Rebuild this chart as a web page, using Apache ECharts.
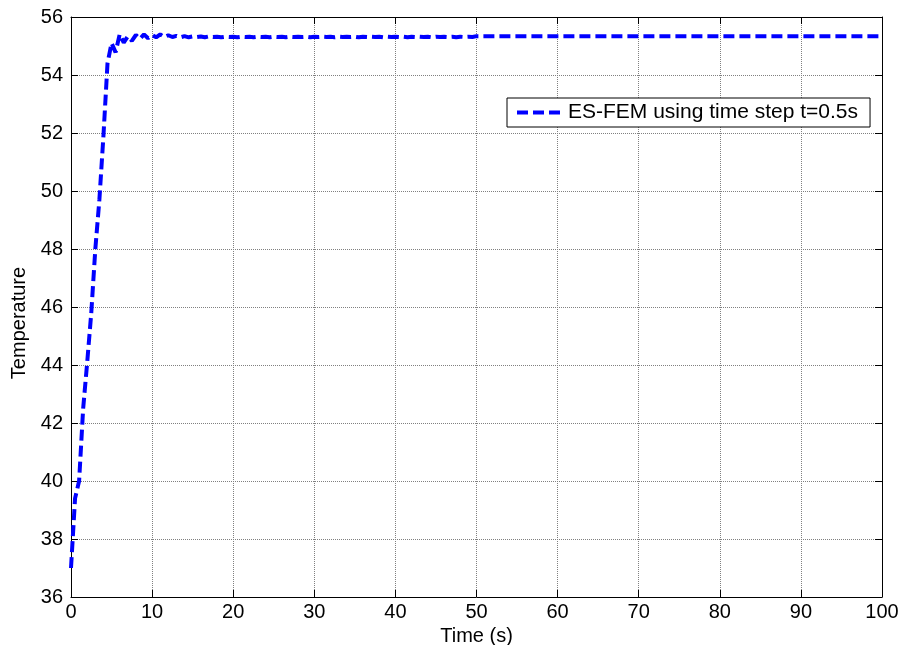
<!DOCTYPE html>
<html>
<head>
<meta charset="utf-8">
<script src="https://cdn.jsdelivr.net/npm/echarts@6/dist/echarts.min.js"></script>
<style>
  html, body { margin: 0; padding: 0; background: #ffffff; }
  #chart { width: 904px; height: 645px; }
</style>
</head>
<body>
<div id="chart"></div>
<script>
// Transient temperature history, ES-FEM with a 0.5 s time step
const seriesName = 'ES-FEM using time step t=0.5s';
const timeStep = 0.5;
const xTicks = [0, 10, 20, 30, 40, 50, 60, 70, 80, 90, 100];
const yTicks = [36, 38, 40, 42, 44, 46, 48, 50, 52, 54, 56];

// temperatures at t = 0, 0.5, 1.0, ... 100 s
const temperature = [
  37.0, 39.4, 40.0, 42.5, 44.1, 45.8, 48.0, 49.7, 51.9, 54.4,
  55.10, 54.78, 55.40, 55.12, 55.33, 55.18, 55.38, 55.25, 55.40, 55.27,
  55.38, 55.30, 55.40, 55.31, 55.37, 55.31, 55.35, 55.30, 55.34, 55.30,
  55.33, 55.31, 55.33, 55.30, 55.33, 55.31, 55.32, 55.30, 55.32, 55.31,
  55.32, 55.30, 55.32, 55.31, 55.32, 55.30, 55.32, 55.31, 55.32, 55.30,
  55.32, 55.31, 55.32, 55.30, 55.32, 55.31, 55.32, 55.31, 55.32, 55.30,
  55.32, 55.31, 55.32, 55.31, 55.32, 55.30, 55.32, 55.31, 55.32, 55.31,
  55.32, 55.30, 55.32, 55.31, 55.32, 55.31, 55.32, 55.30, 55.32, 55.31,
  55.32, 55.31, 55.32, 55.30, 55.32, 55.31, 55.32, 55.31, 55.32, 55.30,
  55.32, 55.31, 55.32, 55.31, 55.32, 55.30, 55.32, 55.31, 55.32, 55.31,
  55.34, 55.34, 55.34, 55.34, 55.34, 55.34, 55.34, 55.34, 55.34, 55.34,
  55.34, 55.34, 55.34, 55.34, 55.34, 55.34, 55.34, 55.34, 55.34, 55.34,
  55.34, 55.34, 55.34, 55.34, 55.34, 55.34, 55.34, 55.34, 55.34, 55.34,
  55.34, 55.34, 55.34, 55.34, 55.34, 55.34, 55.34, 55.34, 55.34, 55.34,
  55.34, 55.34, 55.34, 55.34, 55.34, 55.34, 55.34, 55.34, 55.34, 55.34,
  55.34, 55.34, 55.34, 55.34, 55.34, 55.34, 55.34, 55.34, 55.34, 55.34,
  55.34, 55.34, 55.34, 55.34, 55.34, 55.34, 55.34, 55.34, 55.34, 55.34,
  55.34, 55.34, 55.34, 55.34, 55.34, 55.34, 55.34, 55.34, 55.34, 55.34,
  55.34, 55.34, 55.34, 55.34, 55.34, 55.34, 55.34, 55.34, 55.34, 55.34,
  55.34, 55.34, 55.34, 55.34, 55.34, 55.34, 55.34, 55.34, 55.34, 55.34,
  55.34
];

const points = temperature.map((v, i) => [i * timeStep, v]);

const FONT = 'Liberation Sans, Arial, Helvetica, sans-serif';
const xMin = xTicks[0], xMax = xTicks[xTicks.length - 1];
const yMin = yTicks[0], yMax = yTicks[yTicks.length - 1];
const xStep = xTicks[1] - xTicks[0];
const yStep = yTicks[1] - yTicks[0];

const frameLine = { show: true, onZero: false, lineStyle: { color: '#000', width: 1 } };
const innerTick = { show: true, inside: true, length: 7, lineStyle: { color: '#000', width: 1 } };
const gridLine = { show: true, lineStyle: { color: '#808080', width: 1, type: [1, 1] } };
const curveStyle = { color: '#0000ff', width: 4, type: [11, 5] };

const chart = echarts.init(document.getElementById('chart'), null, { renderer: 'canvas' });
chart.setOption({
  backgroundColor: '#ffffff',
  animation: false,
  textStyle: { fontFamily: FONT },
  grid: { left: 71, right: 22, top: 17, bottom: 48, containLabel: false, outerBoundsMode: 'none' },
  legend: {
    data: [seriesName],
    left: 507,
    top: 98,
    orient: 'horizontal',
    backgroundColor: '#ffffff',
    borderColor: '#000',
    borderWidth: 1,
    padding: [4, 12, 4, 8],
    itemWidth: 46,
    itemHeight: 4,
    itemGap: 6,
    lineStyle: curveStyle,
    textStyle: { fontSize: 21, color: '#000', fontFamily: FONT }
  },
  xAxis: [
    {
      type: 'value', min: xMin, max: xMax, interval: xStep,
      position: 'bottom',
      name: 'Time (s)', nameLocation: 'middle', nameGap: 15,
      nameTextStyle: { fontSize: 20, color: '#000', fontFamily: FONT, verticalAlign: 'top' },
      axisLine: frameLine, axisTick: innerTick,
      axisLabel: { color: '#000', fontSize: 20, margin: 5, fontFamily: FONT },
      splitLine: gridLine
    },
    {
      type: 'value', min: xMin, max: xMax, interval: xStep,
      position: 'top',
      axisLine: frameLine, axisTick: innerTick,
      axisLabel: { show: false }, splitLine: { show: false }
    }
  ],
  yAxis: [
    {
      type: 'value', min: yMin, max: yMax, interval: yStep,
      position: 'left',
      name: 'Temperature', nameLocation: 'middle', nameGap: 38,
      nameTextStyle: { fontSize: 20, color: '#000', fontFamily: FONT, padding: [0, 32, 0, 0] },
      axisLine: frameLine, axisTick: innerTick,
      axisLabel: { color: '#000', fontSize: 20, margin: 8, fontFamily: FONT },
      splitLine: gridLine
    },
    {
      type: 'value', min: yMin, max: yMax, interval: yStep,
      position: 'right',
      axisLine: frameLine, axisTick: innerTick,
      axisLabel: { show: false }, splitLine: { show: false }
    }
  ],
  series: [
    {
      name: seriesName,
      type: 'line',
      xAxisIndex: 0,
      yAxisIndex: 0,
      data: points,
      symbol: 'none',
      showSymbol: false,
      smooth: false,
      lineStyle: curveStyle,
      itemStyle: { color: '#0000ff' }
    }
  ]
});
</script>
</body>
</html>
